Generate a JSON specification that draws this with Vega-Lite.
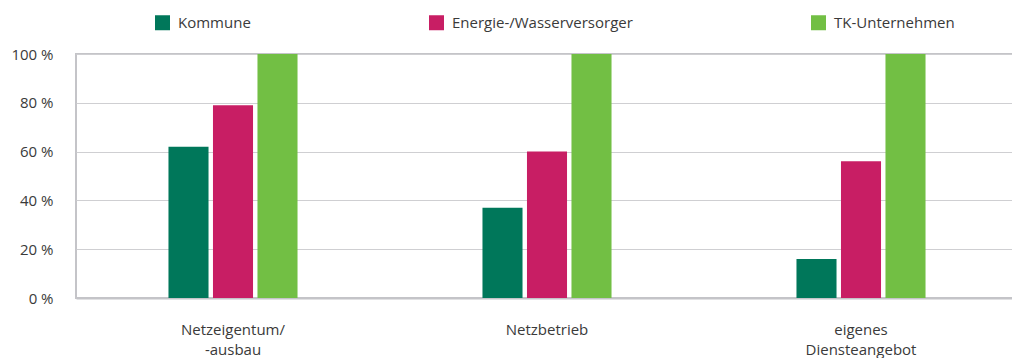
{
  "$schema": "https://vega.github.io/schema/vega-lite/v6.json",
  "width": 942,
  "height": 244,
  "autosize": "none",
  "padding": {"left": 76, "top": 54, "right": 0, "bottom": 60},
  "background": "white",
  "config": {
    "font": "Open Sans",
    "view": {"stroke": "#c4c4c8", "strokeWidth": 2},
    "axis": {"labelColor": "#3a3a3a", "labelFont": "Open Sans", "labelFontSize": 15},
    "legend": {"labelColor": "#3a3a3a", "labelFont": "Open Sans", "labelFontSize": 15}
  },
  "data": {
    "values": [
      {"bereich": "Netzeigentum/|-ausbau", "akteur": "Kommune", "anteil": 62},
      {"bereich": "Netzeigentum/|-ausbau", "akteur": "Energie-/Wasserversorger", "anteil": 79},
      {"bereich": "Netzeigentum/|-ausbau", "akteur": "TK-Unternehmen", "anteil": 100},
      {"bereich": "Netzbetrieb", "akteur": "Kommune", "anteil": 37},
      {"bereich": "Netzbetrieb", "akteur": "Energie-/Wasserversorger", "anteil": 60},
      {"bereich": "Netzbetrieb", "akteur": "TK-Unternehmen", "anteil": 100},
      {"bereich": "eigenes|Diensteangebot", "akteur": "Kommune", "anteil": 16},
      {"bereich": "eigenes|Diensteangebot", "akteur": "Energie-/Wasserversorger", "anteil": 56},
      {"bereich": "eigenes|Diensteangebot", "akteur": "TK-Unternehmen", "anteil": 100}
    ]
  },
  "mark": {"type": "bar"},
  "encoding": {
    "x": {
      "field": "bereich",
      "type": "nominal",
      "sort": null,
      "title": null,
      "scale": {"paddingInner": 0.589, "paddingOuter": 0.2945},
      "axis": {
        "labelAngle": 0,
        "ticks": false,
        "domain": true,
        "domainColor": "#c4c4c8",
        "domainWidth": 2,
        "labelPadding": 24,
        "labelLineHeight": 20,
        "labelExpr": "split(datum.label, '|')"
      }
    },
    "xOffset": {
      "field": "akteur",
      "type": "nominal",
      "sort": ["Kommune", "Energie-/Wasserversorger", "TK-Unternehmen"],
      "scale": {"paddingInner": 0.1, "paddingOuter": 0}
    },
    "y": {
      "field": "anteil",
      "type": "quantitative",
      "title": null,
      "scale": {"domain": [0, 100], "nice": false},
      "axis": {
        "values": [0, 20, 40, 60, 80, 100],
        "ticks": false,
        "domain": false,
        "grid": true,
        "gridColor": "#cfcfd2",
        "gridWidth": 1,
        "labelPadding": 23,
        "labelExpr": "datum.value + ' %'"
      }
    },
    "color": {
      "field": "akteur",
      "type": "nominal",
      "sort": ["Kommune", "Energie-/Wasserversorger", "TK-Unternehmen"],
      "scale": {
        "domain": ["Kommune", "Energie-/Wasserversorger", "TK-Unternehmen"],
        "range": ["#00775a", "#c81e64", "#72bf44"]
      },
      "legend": {
        "title": null,
        "orient": "none",
        "legendX": 79,
        "legendY": -39,
        "direction": "horizontal",
        "columns": 3,
        "columnPadding": 178,
        "symbolType": "square",
        "symbolSize": 225,
        "symbolStrokeWidth": 0,
        "labelOffset": 8,
        "labelLimit": 400
      }
    }
  }
}
